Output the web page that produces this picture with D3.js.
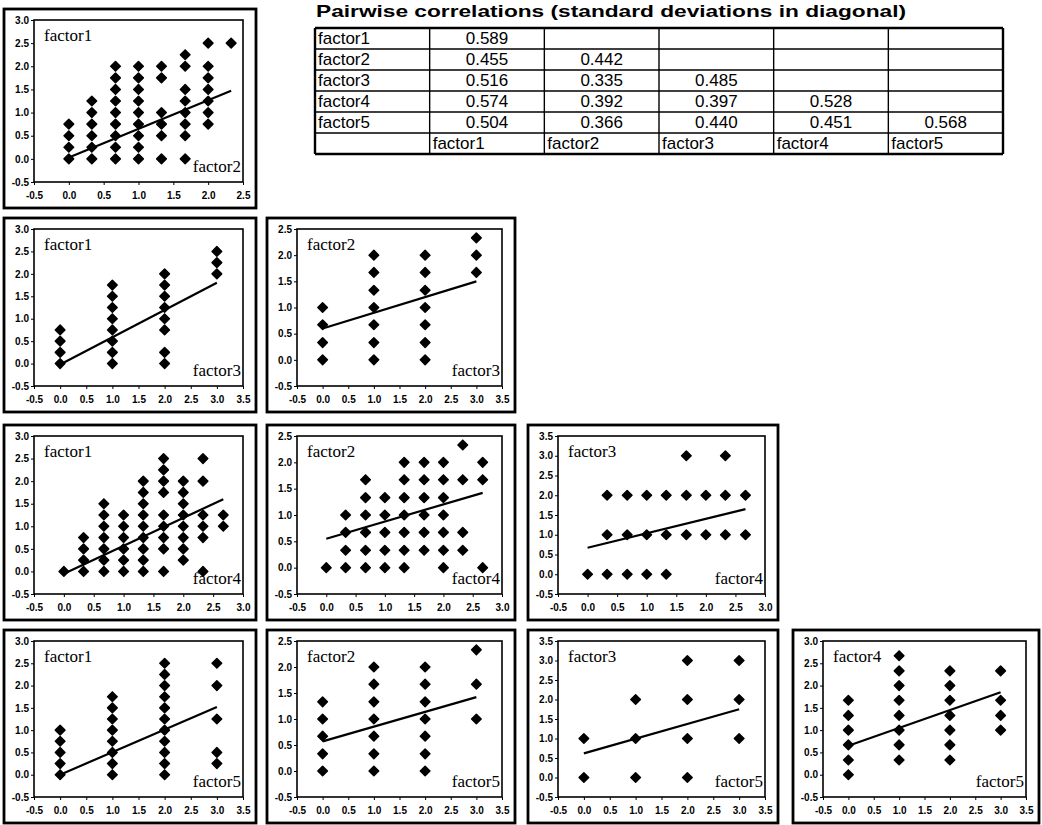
<!DOCTYPE html>
<html>
<head>
<meta charset="utf-8">
<script src="https://cdn.jsdelivr.net/npm/d3@7"></script>
<style>
	body { margin: 0; background: #fff; }
	svg { display: block; }
	.tick text { font-family: "Liberation Sans", Arial, sans-serif; font-weight: bold; font-size: 10px; fill: #000; }
	.tick line { stroke: #000; stroke-width: 1; }
</style>
</head>
<body>
<svg id="chart"></svg>
<script>
//names of the variables
var factorNames = ["factor1", "factor2", "factor3", "factor4", "factor5"];

//standard deviations (diagonal of the table)
var sdDiagonal = [0.589, 0.442, 0.485, 0.528, 0.568];

//lower triangle of pairwise correlations, one array per row (factor2..factor5)
var corrFactor2 = [0.455];
var corrFactor3 = [0.516, 0.335];
var corrFactor4 = [0.574, 0.392, 0.397];
var corrFactor5 = [0.504, 0.366, 0.440, 0.451];

//axis ranges, depending on which factor sits on the axis
var yRanges = { factor1: [-0.5, 3.0], factor2: [-0.5, 2.5], factor3: [-0.5, 3.5], factor4: [-0.5, 3.0] };
var xRanges = { factor2: [-0.5, 2.5], factor3: [-0.5, 3.5], factor4: [-0.5, 3.0], factor5: [-0.5, 3.5] };

//scatter points: [x value, [y values at that x]]
var pts1v2 = [
	[0, [0, 0.25, 0.5, 0.75]],
	[0.33, [0, 0.25, 0.5, 0.75, 1, 1.25]],
	[0.67, [0, 0.25, 0.5, 0.75, 1, 1.25, 1.5, 1.75, 2]],
	[1, [0, 0.25, 0.5, 0.75, 1, 1.25, 1.5, 1.75, 2]],
	[1.33, [0, 0.5, 0.75, 1, 1.75, 2]],
	[1.67, [0, 0.5, 0.75, 1, 1.25, 1.5, 2, 2.25]],
	[2, [0.75, 1, 1.25, 1.5, 1.75, 2, 2.5]],
	[2.33, [2.5]]
];
var pts1v3 = [
	[0, [0, 0.25, 0.5, 0.75]],
	[1, [0, 0.25, 0.5, 0.75, 1, 1.25, 1.5, 1.75]],
	[2, [0, 0.25, 0.75, 1, 1.25, 1.5, 1.75, 2]],
	[3, [2, 2.25, 2.5]]
];
var pts2v3 = [
	[0, [0, 0.33, 0.67, 1]],
	[1, [0, 0.33, 0.67, 1, 1.33, 1.67, 2]],
	[2, [0, 0.33, 0.67, 1, 1.33, 1.67, 2]],
	[3, [1.67, 2, 2.33]]
];
var pts1v4 = [
	[0, [0]],
	[0.33, [0, 0.25, 0.5, 0.75]],
	[0.67, [0, 0.25, 0.5, 0.75, 1, 1.25, 1.5]],
	[1, [0, 0.25, 0.5, 0.75, 1, 1.25]],
	[1.33, [0, 0.25, 0.5, 0.75, 1, 1.25, 1.5, 1.75, 2]],
	[1.67, [0, 0.5, 0.75, 1, 1.25, 1.75, 2, 2.25, 2.5]],
	[2, [0.25, 0.5, 0.75, 1, 1.25, 1.5, 1.75, 2]],
	[2.33, [0, 0.75, 1, 1.25, 2, 2.5]],
	[2.67, [1, 1.25]]
];
var pts2v4 = [
	[0, [0]],
	[0.33, [0, 0.33, 0.67, 1]],
	[0.67, [0, 0.33, 0.67, 1, 1.33, 1.67]],
	[1, [0, 0.33, 0.67, 1, 1.33]],
	[1.33, [0, 0.33, 0.67, 1, 1.33, 1.67, 2]],
	[1.67, [0.33, 0.67, 1, 1.33, 1.67, 2]],
	[2, [0, 0.33, 0.67, 1, 1.33, 1.67, 2]],
	[2.33, [0.33, 0.67, 1.67, 2.33]],
	[2.67, [0, 1.67, 2]]
];
var pts3v4 = [
	[0, [0]],
	[0.33, [0, 1, 2]],
	[0.67, [0, 1, 2]],
	[1, [0, 1, 2]],
	[1.33, [0, 1, 2]],
	[1.67, [1, 2, 3]],
	[2, [1, 2]],
	[2.33, [1, 2, 3]],
	[2.67, [1, 2]]
];
var pts1v5 = [
	[0, [0, 0.25, 0.5, 0.75, 1]],
	[1, [0, 0.25, 0.5, 0.75, 1, 1.25, 1.5, 1.75]],
	[2, [0, 0.25, 0.5, 0.75, 1, 1.25, 1.5, 1.75, 2, 2.25, 2.5]],
	[3, [0.25, 0.5, 1.25, 2, 2.5]]
];
var pts2v5 = [
	[0, [0, 0.33, 0.67, 1, 1.33]],
	[1, [0, 0.33, 0.67, 1, 1.33, 1.67, 2]],
	[2, [0, 0.33, 0.67, 1, 1.33, 1.67, 2]],
	[3, [1, 1.67, 2.33]]
];
var pts3v5 = [
	[0, [0, 1]],
	[1, [0, 1, 2]],
	[2, [0, 1, 2, 3]],
	[3, [1, 2, 3]]
];
var pts4v5 = [
	[0, [0, 0.33, 0.67, 1, 1.33, 1.67]],
	[1, [0.33, 0.67, 1, 1.33, 1.67, 2, 2.33, 2.67]],
	[2, [0.33, 0.67, 1, 1.33, 1.67, 2, 2.33]],
	[3, [1, 1.33, 1.67, 2.33]]
];

//fitted regression lines: [x start, y start, x end, y end]
var fit1v2 = [0, 0.03, 2.33, 1.47];
var fit1v3 = [0, -0.02, 3, 1.8];
var fit2v3 = [0, 0.6, 3, 1.5];
var fit1v4 = [0, -0.05, 2.67, 1.6];
var fit2v4 = [0, 0.55, 2.67, 1.42];
var fit3v4 = [0, 0.67, 2.67, 1.65];
var fit1v5 = [0, 0, 3, 1.52];
var fit2v5 = [0, 0.57, 3, 1.42];
var fit3v5 = [0, 0.62, 3, 1.75];
var fit4v5 = [0, 0.65, 3, 1.85];

//panels of the lower triangle, row = x factor, col = y factor
var panels = [
	{ row: 0, col: 0, y: "factor1", x: "factor2", pts: pts1v2, fit: fit1v2 },
	{ row: 1, col: 0, y: "factor1", x: "factor3", pts: pts1v3, fit: fit1v3 },
	{ row: 1, col: 1, y: "factor2", x: "factor3", pts: pts2v3, fit: fit2v3 },
	{ row: 2, col: 0, y: "factor1", x: "factor4", pts: pts1v4, fit: fit1v4 },
	{ row: 2, col: 1, y: "factor2", x: "factor4", pts: pts2v4, fit: fit2v4 },
	{ row: 2, col: 2, y: "factor3", x: "factor4", pts: pts3v4, fit: fit3v4 },
	{ row: 3, col: 0, y: "factor1", x: "factor5", pts: pts1v5, fit: fit1v5 },
	{ row: 3, col: 1, y: "factor2", x: "factor5", pts: pts2v5, fit: fit2v5 },
	{ row: 3, col: 2, y: "factor3", x: "factor5", pts: pts3v5, fit: fit3v5 },
	{ row: 3, col: 3, y: "factor4", x: "factor5", pts: pts4v5, fit: fit4v5 }
];

//layout of the panel grid
var colX = [4, 267, 528, 793];
var colW = [252, 248, 250, 246];
var rowY = [9, 218, 425, 630];
var rowH = [199, 194, 195, 193];
var margin = { top: 11, right: 13, bottom: 26, left: 30 };

var svg = d3.select("#chart")
	.attr("width", 1042)
	.attr("height", 825);

var serif = "'Liberation Serif', 'Times New Roman', serif";
var sans = "'Liberation Sans', Arial, sans-serif";

/**
 * Draws one scatter panel with axes, points and regression line
 * @param {object} p panel description
 */
function drawPanel(p){
	var ox = colX[p.col], oy = rowY[p.row];
	var w = colW[p.col], h = rowH[p.row];
	var g = svg.append("g").attr("transform", `translate(${ox},${oy})`);

	//outer box
	g.append("rect")
		.attr("x", 0).attr("y", 0)
		.attr("width", w).attr("height", h)
		.attr("fill", "none")
		.attr("stroke", "#000")
		.attr("stroke-width", 2.8);

	var xd = xRanges[p.x], yd = yRanges[p.y];
	var x = d3.scaleLinear().domain(xd).range([margin.left, w - margin.right]);
	var y = d3.scaleLinear().domain(yd).range([h - margin.bottom, margin.top]);

	var fmt = d3.format(".1f");

	g.append("g")
		.attr("transform", `translate(${margin.left},0)`)
		.call(d3.axisLeft(y)
			.tickValues(d3.range(yd[0], yd[1] + 0.01, 0.5))
			.tickFormat(d => fmt(d).replace("\u2212", "-"))
			.tickSize(3).tickPadding(2))
		.call(a => a.select(".domain").remove());

	g.append("g")
		.attr("transform", `translate(0,${h - margin.bottom})`)
		.call(d3.axisBottom(x)
			.tickValues(d3.range(xd[0], xd[1] + 0.01, 0.5))
			.tickFormat(d => fmt(d).replace("\u2212", "-"))
			.tickSize(3).tickPadding(7))
		.call(a => a.select(".domain").remove());

	//plot frame
	g.append("rect")
		.attr("x", margin.left).attr("y", margin.top)
		.attr("width", w - margin.left - margin.right)
		.attr("height", h - margin.top - margin.bottom)
		.attr("fill", "none")
		.attr("stroke", "#000")
		.attr("stroke-width", 1.6);

	//labels of the two factors
	g.append("text")
		.attr("x", margin.left + 10)
		.attr("y", margin.top + 21)
		.style("font", "17px " + serif)
		.text(p.y);

	g.append("text")
		.attr("x", w - margin.right - 2)
		.attr("y", h - margin.bottom - 10)
		.attr("text-anchor", "end")
		.style("font", "17px " + serif)
		.text(p.x);

	//flatten columns of points
	var flat = [];
	p.pts.forEach(function(c){
		c[1].forEach(function(v){ flat.push([c[0], v]); });
	});

	var diamond = d3.symbol().type(d3.symbolSquare).size(46);
	g.append("g")
		.selectAll("path")
		.data(flat)
		.join("path")
		.attr("d", diamond)
		.attr("transform", d => `translate(${x(d[0])},${y(d[1])}) rotate(45)`)
		.attr("fill", "#000")
		.attr("stroke", "#000")
		.attr("stroke-width", 1.5)
		.attr("stroke-linejoin", "round");

	//regression line
	g.append("line")
		.attr("x1", x(p.fit[0])).attr("y1", y(p.fit[1]))
		.attr("x2", x(p.fit[2])).attr("y2", y(p.fit[3]))
		.attr("stroke", "#000")
		.attr("stroke-width", 2.2);
}

panels.forEach(drawPanel);

//correlation table
var corrRows = [[], corrFactor2, corrFactor3, corrFactor4, corrFactor5];
var tableRows = factorNames.map(function(name, i){
	return [name].concat(corrRows[i].map(v => v.toFixed(3)), [sdDiagonal[i].toFixed(3)]);
});
var headerRow = [""].concat(factorNames);

var tcol = d3.scaleBand().domain(d3.range(6)).range([315, 1003]);
var trow = d3.scaleBand().domain(d3.range(6)).range([28, 154]);

var tg = svg.append("g");

tg.append("text")
	.attr("x", 316)
	.attr("y", 17)
	.attr("textLength", 590)
	.attr("lengthAdjust", "spacingAndGlyphs")
	.style("font", "bold 17px " + sans)
	.text("Pairwise correlations (standard deviations in diagonal)");

//grid lines
tg.selectAll("line.h")
	.data(d3.range(7))
	.join("line")
	.attr("class", "h")
	.attr("x1", tcol.range()[0]).attr("x2", tcol.range()[1])
	.attr("y1", i => trow.range()[0] + i * trow.bandwidth())
	.attr("y2", i => trow.range()[0] + i * trow.bandwidth())
	.attr("stroke", "#000")
	.attr("stroke-width", i => (i === 0 || i === 6) ? 2.4 : 1.4);

tg.selectAll("line.v")
	.data(d3.range(7))
	.join("line")
	.attr("class", "v")
	.attr("y1", trow.range()[0]).attr("y2", trow.range()[1])
	.attr("x1", i => tcol.range()[0] + i * tcol.bandwidth())
	.attr("x2", i => tcol.range()[0] + i * tcol.bandwidth())
	.attr("stroke", "#000")
	.attr("stroke-width", i => (i === 0 || i === 6) ? 2.4 : 1.4);

//cell texts
tableRows.forEach(function(r, ri){
	tg.append("g")
		.selectAll("text")
		.data(r)
		.join("text")
		.attr("x", (d, ci) => ci === 0 ? tcol(0) + 3 : tcol(ci) + tcol.bandwidth() / 2)
		.attr("y", trow(ri) + 16)
		.attr("text-anchor", (d, ci) => ci === 0 ? "start" : "middle")
		.style("font", "17px " + sans)
		.text(d => d);
});

tg.append("g")
	.selectAll("text")
	.data(headerRow)
	.join("text")
	.attr("x", (d, ci) => tcol(ci) + 3)
	.attr("y", trow(5) + 16)
	.style("font", "17px " + sans)
	.text(d => d);
</script>
</body>
</html>
